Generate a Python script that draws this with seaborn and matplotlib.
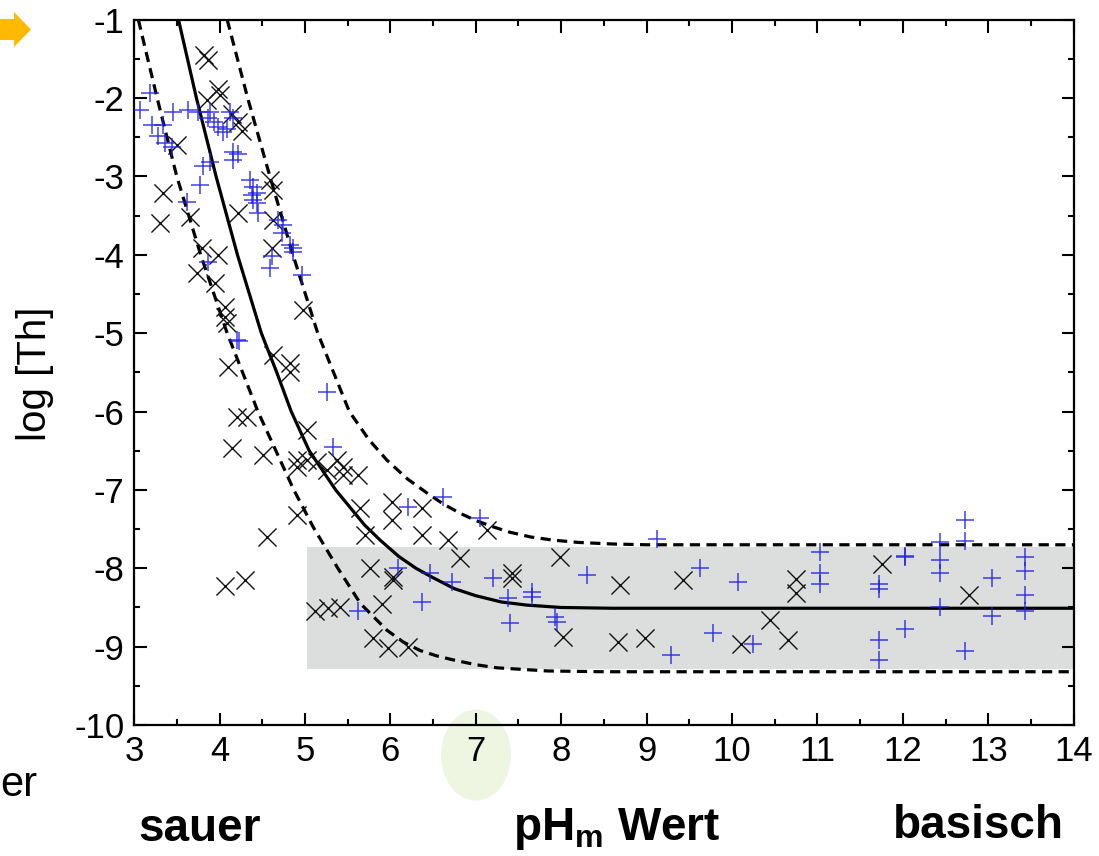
"""
Th-Löslichkeit über pH_m: Messpunkte, Modellkurve mit Unsicherheitsband
"""

import numpy as np
import matplotlib
matplotlib.use("Agg")
import matplotlib.pyplot as plt
import matplotlib.patches as mpatches
from matplotlib.ticker import MultipleLocator
import seaborn as sns

# Messpunkte (schwarze Kreuze)
ph_x = [3.82, 3.86, 3.98, 4.00, 3.85, 4.15, 4.22, 4.26, 3.50, 3.34, 4.59, 4.63,
        3.30, 3.66, 4.22, 4.63, 4.62, 3.80, 3.98, 3.74, 3.95, 4.07, 4.07, 4.09,
        4.98, 4.63, 4.83, 4.83, 4.10, 4.20, 4.32, 4.15, 4.51, 5.03, 4.91, 5.03,
        5.14, 5.26, 5.38, 5.45, 5.45, 5.62, 4.91, 4.91, 5.65, 6.02, 6.02, 6.37,
        5.70, 6.37, 6.68, 6.82, 7.13, 5.76, 6.03, 6.03, 5.90, 5.12, 5.27, 5.41,
        5.80, 5.97, 6.21, 4.07, 4.30, 4.56, 7.99, 7.43, 7.43, 8.69, 9.43, 8.02,
        8.67, 8.98, 10.10, 10.44, 10.65, 10.75, 10.75, 11.76, 12.77]
log_th_x = [-1.45, -1.52, -1.89, -1.96, -2.02, -2.20, -2.30, -2.42, -2.60, -3.21, -3.04, -3.17,
            -3.59, -3.52, -3.47, -3.55, -3.91, -3.91, -4.00, -4.23, -4.36, -4.67, -4.79, -4.87,
            -4.70, -5.28, -5.38, -5.49, -5.43, -6.07, -6.07, -6.47, -6.56, -6.24, -6.62, -6.62,
            -6.65, -6.75, -6.62, -6.71, -6.81, -6.81, -6.71, -7.32, -7.23, -7.16, -7.39, -7.23,
            -7.58, -7.58, -7.64, -7.87, -7.51, -8.00, -8.11, -8.15, -8.45, -8.54, -8.51, -8.50,
            -8.89, -9.02, -9.01, -8.22, -8.15, -7.60, -7.86, -8.06, -8.13, -8.21, -8.15, -8.88,
            -8.94, -8.89, -8.96, -8.66, -8.92, -8.14, -8.32, -7.94, -8.34]

# Messpunkte (blaue Plus)
ph_plus = [3.19, 3.07, 3.21, 3.34, 3.28, 3.36, 3.44, 3.46, 3.63, 3.75, 3.89, 3.87,
           3.93, 3.98, 4.04, 4.12, 4.16, 4.09, 4.16, 4.22, 4.16, 3.89, 3.81, 3.77,
           4.36, 4.39, 4.44, 3.62, 4.38, 4.39, 4.44, 4.45, 4.69, 4.74, 4.73, 4.83,
           4.86, 4.86, 4.62, 4.59, 4.97, 3.87, 4.20, 4.23, 5.26, 5.33, 6.21, 6.62,
           7.05, 6.09, 6.47, 6.72, 7.20, 6.37, 5.62, 9.12, 7.38, 7.40, 7.66, 7.66,
           7.93, 7.95, 8.30, 9.63, 9.78, 9.28, 10.07, 11.03, 11.03, 11.03, 10.24, 11.72,
           11.72, 11.72, 11.72, 12.03, 12.03, 12.03, 12.43, 12.43, 12.43, 12.43, 12.73, 12.73,
           12.73, 13.04, 13.04, 13.43, 13.43, 13.43, 13.43]
log_th_plus = [-1.93, -2.15, -2.34, -2.34, -2.49, -2.57, -2.62, -2.18, -2.15, -2.18, -2.18, -2.25,
               -2.30, -2.37, -2.43, -2.18, -2.25, -2.40, -2.69, -2.72, -2.79, -2.81, -2.87, -3.11,
               -3.04, -3.13, -3.21, -3.32, -3.24, -3.30, -3.34, -3.47, -3.55, -3.62, -3.72, -3.87,
               -3.91, -3.96, -4.02, -4.17, -4.26, -4.09, -5.09, -5.10, -5.75, -6.45, -7.22, -7.09,
               -7.36, -7.99, -8.06, -8.18, -8.13, -8.43, -8.54, -7.62, -8.38, -8.70, -8.30, -8.37,
               -8.62, -8.69, -8.09, -7.99, -8.83, -9.11, -8.18, -7.79, -8.06, -8.20, -8.97, -8.20,
               -8.26, -8.92, -9.17, -7.86, -7.84, -8.77, -7.67, -7.90, -8.06, -8.50, -7.38, -7.65,
               -9.05, -8.13, -8.61, -7.86, -8.03, -8.34, -8.55]

# Modellkurve und Grenzen
fit_ph = [3.52, 3.73, 3.96, 4.21, 4.49, 4.67, 4.84, 5.05, 5.36, 5.70, 5.88, 6.10,
          6.30, 6.50, 6.75, 7.00, 7.30, 7.60, 8.00, 8.60, 9.50, 14.0]
fit_log = [-1.00, -2.00, -3.00, -4.00, -5.00, -5.50, -6.00, -6.50, -7.00, -7.45, -7.64, -7.85,
           -8.00, -8.12, -8.26, -8.35, -8.43, -8.47, -8.50, -8.51, -8.51, -8.51]
upper_ph = [4.09, 4.33, 4.59, 4.86, 5.15, 5.52, 5.75, 5.96, 6.20, 6.43, 6.62, 6.82,
            7.00, 7.20, 7.40, 7.64, 7.90, 8.20, 8.60, 9.00, 14.0]
upper_log = [-1.00, -2.00, -3.00, -4.00, -5.00, -6.00, -6.36, -6.62, -6.86, -7.04, -7.18, -7.30,
             -7.39, -7.47, -7.54, -7.60, -7.64, -7.67, -7.69, -7.70, -7.70]
lower_ph = [3.05, 3.27, 3.50, 3.78, 4.09, 4.45, 4.87, 5.10, 5.38, 5.65, 5.96, 6.15,
            6.35, 6.55, 6.74, 7.00, 7.25, 7.84, 8.50, 14.0]
lower_log = [-1.00, -2.00, -3.00, -4.00, -5.00, -6.00, -7.00, -7.48, -7.99, -8.45, -8.79, -8.94,
             -9.05, -9.12, -9.17, -9.23, -9.27, -9.31, -9.32, -9.32]

band_ph = [5.03, 14.0]
band_log = [-9.28, -7.73]

x_ticks = list(range(3, 15))
y_ticks = list(range(-10, 0))

sns.set_style("ticks")
plt.rcParams['font.family'] = ['Liberation Sans', 'DejaVu Sans']
plt.rcParams['axes.unicode_minus'] = False
plt.rcParams['text.color'] = 'black'
plt.rcParams['mathtext.fontset'] = 'custom'
plt.rcParams['mathtext.rm'] = 'Liberation Sans:bold'

fig = plt.figure(figsize=(10.99, 8.56), dpi=100, facecolor='white')
ax = fig.add_axes([0.122, 0.153, 0.855, 0.824])
ax.set_facecolor('none')

# Band
ax.add_patch(mpatches.Rectangle((band_ph[0], band_log[0]), band_ph[1] - band_ph[0],
                                band_log[1] - band_log[0], facecolor='#dcdddd',
                                edgecolor='none', zorder=0))

sns.lineplot(x=fit_ph, y=fit_log, color='black', lw=2.3, sort=False, ax=ax, zorder=3)
sns.lineplot(x=upper_ph, y=upper_log, color='black', lw=2.3, sort=False, ax=ax,
             linestyle=(0, (3.2, 2.0)), zorder=3)
sns.lineplot(x=lower_ph, y=lower_log, color='black', lw=2.3, sort=False, ax=ax,
             linestyle=(0, (3.2, 2.0)), zorder=3)

sns.scatterplot(x=ph_x, y=log_th_x, marker='x', color='#111111', s=170, linewidth=1.0,
                ax=ax, zorder=4)
sns.scatterplot(x=ph_plus, y=log_th_plus, marker='+', color='#1f1fe6', s=150, linewidth=1.1,
                alpha=0.85, ax=ax, zorder=4)

ax.set_xlim(3, 14)
ax.set_ylim(-10, -1)
ax.set_xticks(x_ticks)
ax.set_yticks(y_ticks)
ax.xaxis.set_minor_locator(MultipleLocator(0.5))
ax.yaxis.set_minor_locator(MultipleLocator(0.5))
ax.tick_params(which='both', direction='in', top=True, right=True, width=1.5,
               labelsize=25, colors='black')
ax.tick_params(which='major', length=9)
ax.tick_params(which='minor', length=4.5)
ax.tick_params(axis='x', pad=7)
ax.tick_params(axis='y', pad=7)
for s in ax.spines.values():
    s.set_linewidth(1.6)
    s.set_color('black')
ax.set_xlabel('')
ax.set_ylabel('')

# Beschriftungen
fig.text(0.032, 0.563, 'log [Th]', rotation=90, ha='center', va='center', fontsize=29)
fig.text(0.1256, 0.017, 'sauer', fontsize=33, fontweight='bold', ha='left', va='baseline')
fig.text(0.4668, 0.019, r'pH$_\mathregular{m}$ Wert', fontsize=33, fontweight='bold',
         ha='left', va='baseline')
fig.text(0.8126, 0.021, 'basisch', fontsize=33, fontweight='bold', ha='left', va='baseline')
fig.text(0.0, 0.070, 'er', fontsize=30, ha='left', va='baseline')

# Markierung um pH 7
fig.patches.append(mpatches.Ellipse((0.4331, 0.118), 0.0637, 0.1063, transform=fig.transFigure,
                                    facecolor='#eef6e2', edgecolor='none', zorder=-1))

# Pfeil oben links
W, H = 1099, 856
arrow = [(0, 19), (14, 19), (14, 12), (31, 29.5), (14, 47), (14, 40), (0, 40)]
fig.patches.append(mpatches.Polygon([(px / W, 1 - py / H) for px, py in arrow], closed=True,
                                    transform=fig.transFigure, facecolor='#ffba00',
                                    edgecolor='none', zorder=-1))

plt.savefig('out.png', dpi=100)
plt.close()
